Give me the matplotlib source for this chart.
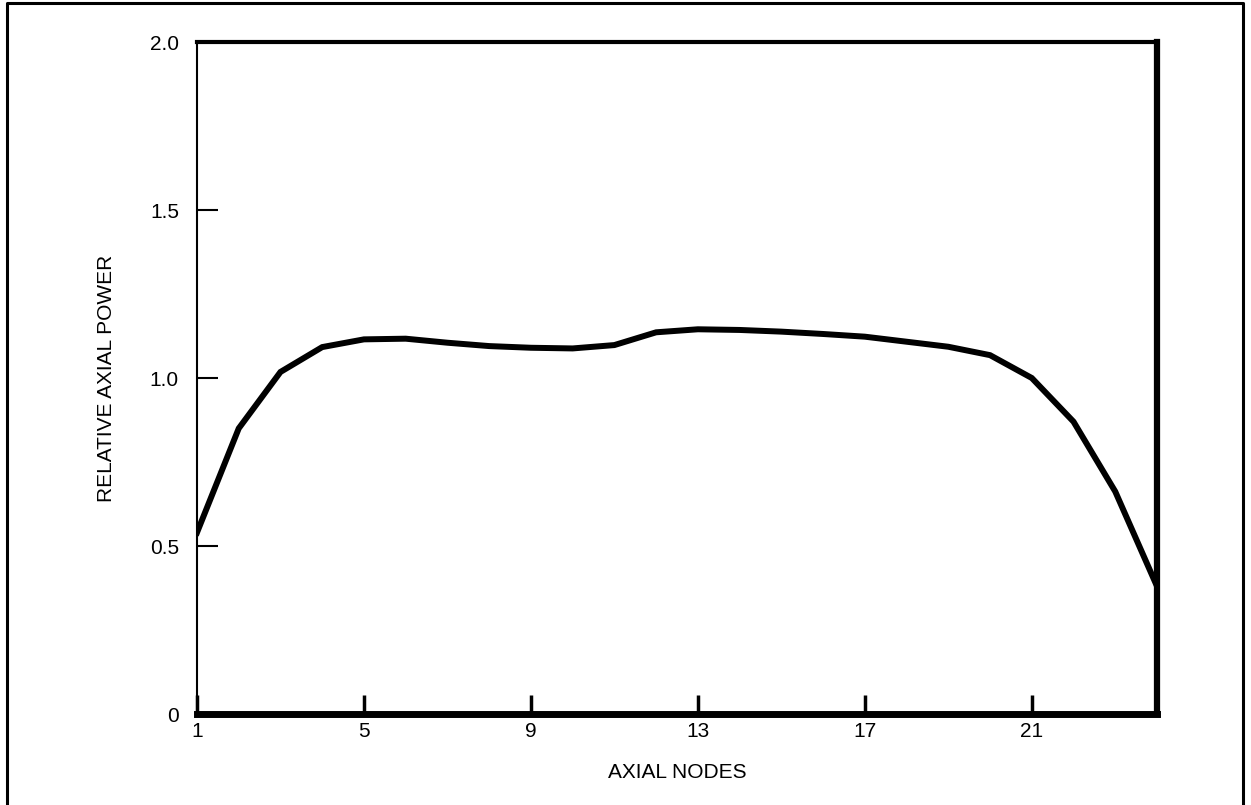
import matplotlib
matplotlib.use('Agg')
import matplotlib.pyplot as plt
from matplotlib.lines import Line2D

nodes = list(range(1, 25))
power = [0.54, 0.85, 1.018, 1.092, 1.115, 1.117, 1.105, 1.095, 1.09, 1.088,
         1.098, 1.136, 1.145, 1.143, 1.138, 1.131, 1.123, 1.108, 1.093, 1.068,
         1.0, 0.87, 0.662, 0.38]
x_ticks = [1, 5, 9, 13, 17, 21]
y_ticks = [0, 0.5, 1.0, 1.5, 2.0]
y_tick_labels = ['0', '0.5', '1.0', '1.5', '2.0']

plt.rcParams['font.family'] = ['Liberation Sans', 'DejaVu Sans']
font_size = 15
W, H = 1251, 805

fig = plt.figure(figsize=(W / 100, H / 100), dpi=100)
ax = fig.add_axes([197 / W, 1 - 714 / H, 960 / W, 672 / H])

ax.plot(nodes, power, color='black', linewidth=4.3, solid_joinstyle='miter')

ax.set(xlim=(1, 24), ylim=(0, 2.0))
ax.set_xticks(x_ticks)
ax.set_yticks(y_ticks)
ax.set_yticklabels(y_tick_labels)

ax.tick_params(axis='x', direction='in', length=14, width=2.5, pad=6, labelsize=font_size)
ax.tick_params(axis='y', direction='in', length=15, width=1.5, pad=13, labelsize=font_size)

ax.spines['left'].set_linewidth(1.5)
ax.spines['top'].set_linewidth(3)
ax.spines['right'].set_linewidth(4.5)
ax.spines['bottom'].set_linewidth(5)

ax.set_xlabel('AXIAL NODES', fontsize=font_size, va='center')
ax.set_ylabel('RELATIVE AXIAL POWER', fontsize=font_size, va='center')
ax.xaxis.set_label_coords(0.5, (714 - 772) / 672)
ax.yaxis.set_label_coords((106 - 197) / 960, 0.5)

# outer frame (bottom edge runs off the page)
frame_x = [7 / W, 7 / W, 1243 / W, 1243 / W]
frame_y = [-0.01, 1 - 3 / H, 1 - 3 / H, -0.01]
fig.add_artist(Line2D(frame_x, frame_y, transform=fig.transFigure,
                      color='black', linewidth=2.2))

fig.savefig('out.png', dpi=100)
